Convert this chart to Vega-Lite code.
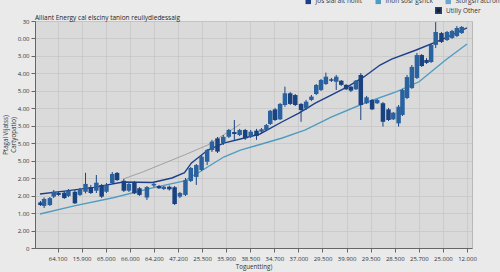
{
"$schema": "https://vega.github.io/schema/vega-lite/v6.json",
"width": 437, "height": 227,
"autosize": "none",
"padding": {"left": 35, "top": 21, "right": 28, "bottom": 24},
"background": "#eaeaea",
"config": {
  "font": "Open Sans",
  "view": {"fill": "#dadada", "stroke": "#b8b8b8"},
  "axis": {"labelFontSize": 6, "labelColor": "#333", "titleFontSize": 6.2, "titleColor": "#333", "titleFontWeight": "normal", "gridColor": "#c6c6c6", "gridWidth": 0.8, "domainColor": "#666", "tickColor": "#666", "tickSize": 4}
},
"title": {"text": "Alliant Energy cal elsciny tanion reuilydledessaig", "anchor": "start", "frame": "group", "fontSize": 6.5, "fontWeight": "normal", "color": "#222", "offset": -23},
"datasets": {
 "lines": [
  {"series":"Jös sial ält noilit","x":-0.73,"y":3.09},{"series":"Jös sial ält noilit","x":0.28,"y":3.26},{"series":"Jös sial ält noilit","x":1.5,"y":3.47},{"series":"Jös sial ält noilit","x":2.72,"y":3.78},{"series":"Jös sial ält noilit","x":3.94,"y":3.75},{"series":"Jös sial ält noilit","x":4.75,"y":4.01},{"series":"Jös sial ält noilit","x":5.27,"y":4.31},{"series":"Jös sial ält noilit","x":5.56,"y":4.87},{"series":"Jös sial ält noilit","x":6.24,"y":5.61},{"series":"Jös sial ält noilit","x":6.9,"y":6.01},{"series":"Jös sial ält noilit","x":7.59,"y":6.24},{"series":"Jös sial ält noilit","x":8.4,"y":6.53},{"series":"Jös sial ält noilit","x":9.33,"y":7.23},{"series":"Jös sial ält noilit","x":10.02,"y":7.73},{"series":"Jös sial ält noilit","x":10.7,"y":8.3},{"series":"Jös sial ält noilit","x":11.36,"y":8.76},{"series":"Jös sial ält noilit","x":12.05,"y":9.24},{"series":"Jös sial ält noilit","x":12.73,"y":9.81},{"series":"Jös sial ält noilit","x":13.39,"y":10.48},{"series":"Jös sial ält noilit","x":13.87,"y":10.82},{"series":"Jös sial ält noilit","x":14.89,"y":11.34},{"series":"Jös sial ält noilit","x":15.9,"y":11.91},{"series":"Jös sial ält noilit","x":17.0,"y":12.6},
  {"series":"Inön sösr gsrick","x":-0.73,"y":1.95},{"series":"Inön sösr gsrick","x":0.69,"y":2.41},{"series":"Inön sösr gsrick","x":2.31,"y":2.88},{"series":"Inön sösr gsrick","x":3.94,"y":3.44},{"series":"Inön sösr gsrick","x":5.27,"y":3.84},{"series":"Inön sösr gsrick","x":5.96,"y":4.41},{"series":"Inön sösr gsrick","x":6.9,"y":5.21},{"series":"Inön sösr gsrick","x":7.59,"y":5.61},{"series":"Inön sösr gsrick","x":8.19,"y":5.84},{"series":"Inön sösr gsrick","x":9.33,"y":6.3},{"series":"Inön sösr gsrick","x":10.29,"y":6.76},{"series":"Inön sösr gsrick","x":11.36,"y":7.5},{"series":"Inön sösr gsrick","x":12.73,"y":8.29},{"series":"Inön sösr gsrick","x":14.08,"y":8.95},{"series":"Inön sösr gsrick","x":15.01,"y":9.52},{"series":"Inön sösr gsrick","x":16.11,"y":10.77},{"series":"Inön sösr gsrick","x":17.0,"y":11.68}
 ],
 "gray": [
  {"x":2.72,"y":3.95},{"x":3.53,"y":4.35},{"x":5.27,"y":5.33},{"x":6.24,"y":5.9},{"x":7.59,"y":7.1}
 ],
 "candles": [
  {"x":-0.71,"open":2.61,"close":2.46,"low":2.41,"high":2.69},
  {"x":-0.56,"open":2.41,"close":2.81,"low":2.29,"high":2.89},
  {"x":-0.32,"open":2.46,"close":2.86,"low":2.41,"high":2.92},
  {"x":-0.16,"open":2.94,"close":3.22,"low":2.86,"high":3.32},
  {"x":0.04,"open":3.15,"close":3.04,"low":2.98,"high":3.21},
  {"x":0.28,"open":3.17,"close":2.86,"low":2.81,"high":3.26},
  {"x":0.45,"open":2.98,"close":3.28,"low":2.92,"high":3.38},
  {"x":0.72,"open":3.22,"close":2.56,"low":2.52,"high":3.32},
  {"x":0.93,"open":3.04,"close":3.36,"low":2.98,"high":3.44},
  {"x":1.16,"open":3.22,"close":3.67,"low":3.13,"high":4.31},
  {"x":1.38,"open":3.49,"close":3.15,"low":3.09,"high":3.61},
  {"x":1.61,"open":3.28,"close":3.74,"low":3.15,"high":4.18},
  {"x":1.83,"open":3.61,"close":2.94,"low":2.86,"high":3.67},
  {"x":2.03,"open":3.22,"close":3.61,"low":3.15,"high":3.72},
  {"x":2.27,"open":3.72,"close":4.24,"low":3.67,"high":4.35},
  {"x":2.47,"open":4.3,"close":3.89,"low":3.84,"high":4.35},
  {"x":2.75,"open":3.85,"close":3.28,"low":3.21,"high":3.95},
  {"x":2.96,"open":3.28,"close":3.67,"low":3.21,"high":3.72},
  {"x":3.19,"open":3.74,"close":3.13,"low":3.09,"high":3.84},
  {"x":3.4,"open":3.42,"close":3.04,"low":2.98,"high":3.49},
  {"x":3.71,"open":2.89,"close":3.49,"low":2.75,"high":3.55},
  {"x":4.0,"open":3.58,"close":3.67,"low":3.49,"high":3.72},
  {"x":4.21,"open":3.55,"close":3.42,"low":3.38,"high":3.61},
  {"x":4.41,"open":3.38,"close":3.51,"low":3.32,"high":3.55},
  {"x":4.64,"open":3.51,"close":3.36,"low":3.29,"high":3.58},
  {"x":4.86,"open":3.48,"close":2.52,"low":2.46,"high":3.55},
  {"x":5.08,"open":2.94,"close":3.15,"low":2.86,"high":3.21},
  {"x":5.31,"open":3.04,"close":3.89,"low":2.98,"high":4.01},
  {"x":5.53,"open":3.84,"close":4.58,"low":3.78,"high":4.64},
  {"x":5.76,"open":4.07,"close":4.75,"low":3.61,"high":4.81},
  {"x":5.98,"open":4.47,"close":5.23,"low":4.41,"high":5.33},
  {"x":6.21,"open":4.94,"close":5.61,"low":4.75,"high":5.67},
  {"x":6.41,"open":5.61,"close":6.09,"low":5.5,"high":6.19},
  {"x":6.64,"open":6.28,"close":5.52,"low":5.44,"high":6.36},
  {"x":6.88,"open":6.0,"close":6.37,"low":5.9,"high":6.47},
  {"x":7.11,"open":6.37,"close":6.76,"low":6.3,"high":6.82},
  {"x":7.34,"open":6.64,"close":6.53,"low":6.19,"high":7.33},
  {"x":7.56,"open":6.47,"close":6.76,"low":6.41,"high":6.82},
  {"x":7.79,"open":6.76,"close":6.28,"low":6.19,"high":6.82},
  {"x":8.02,"open":6.37,"close":6.66,"low":6.3,"high":6.76},
  {"x":8.26,"open":6.72,"close":6.41,"low":6.19,"high":6.82},
  {"x":8.47,"open":6.66,"close":6.8,"low":6.59,"high":6.87},
  {"x":8.67,"open":6.76,"close":7.04,"low":6.7,"high":7.1},
  {"x":8.83,"open":7.1,"close":7.86,"low":7.04,"high":7.9},
  {"x":9.03,"open":7.94,"close":7.33,"low":7.27,"high":8.02},
  {"x":9.24,"open":7.37,"close":8.25,"low":7.33,"high":8.3},
  {"x":9.44,"open":8.19,"close":8.86,"low":8.09,"high":9.24},
  {"x":9.66,"open":8.86,"close":8.25,"low":8.19,"high":8.93},
  {"x":9.87,"open":8.76,"close":8.19,"low":8.13,"high":8.82},
  {"x":10.11,"open":8.25,"close":7.9,"low":7.23,"high":8.3},
  {"x":10.32,"open":8.0,"close":8.38,"low":7.9,"high":8.48},
  {"x":10.54,"open":8.48,"close":8.67,"low":8.42,"high":8.76},
  {"x":10.74,"open":8.82,"close":9.34,"low":8.76,"high":9.39},
  {"x":10.94,"open":9.05,"close":9.62,"low":8.99,"high":9.68},
  {"x":11.14,"open":9.39,"close":9.81,"low":9.34,"high":10.04},
  {"x":11.37,"open":9.66,"close":9.58,"low":9.51,"high":9.74},
  {"x":11.57,"open":9.52,"close":9.81,"low":9.05,"high":9.91},
  {"x":11.78,"open":9.58,"close":9.34,"low":9.28,"high":9.62},
  {"x":11.98,"open":9.34,"close":9.09,"low":9.05,"high":9.39},
  {"x":12.18,"open":9.24,"close":9.01,"low":8.93,"high":9.28},
  {"x":12.39,"open":9.09,"close":9.58,"low":9.05,"high":9.62},
  {"x":12.59,"open":9.91,"close":8.19,"low":7.33,"high":10.02},
  {"x":12.83,"open":8.29,"close":8.63,"low":8.25,"high":8.71},
  {"x":13.06,"open":8.48,"close":7.94,"low":7.9,"high":8.53},
  {"x":13.27,"open":8.29,"close":8.48,"low":8.25,"high":8.53},
  {"x":13.51,"open":8.29,"close":7.23,"low":6.95,"high":8.36},
  {"x":13.74,"open":7.94,"close":7.33,"low":7.27,"high":8.02},
  {"x":13.94,"open":7.37,"close":7.75,"low":7.33,"high":7.79},
  {"x":14.16,"open":7.14,"close":8.09,"low":6.95,"high":8.19},
  {"x":14.32,"open":7.62,"close":9.05,"low":7.56,"high":9.11},
  {"x":14.51,"open":8.59,"close":9.79,"low":8.53,"high":9.91},
  {"x":14.71,"open":9.16,"close":10.37,"low":9.11,"high":10.48},
  {"x":14.92,"open":9.74,"close":11.05,"low":9.68,"high":11.17},
  {"x":15.12,"open":11.05,"close":10.42,"low":10.37,"high":11.11},
  {"x":15.32,"open":10.77,"close":10.6,"low":10.54,"high":10.88},
  {"x":15.51,"open":10.65,"close":11.63,"low":10.6,"high":11.68},
  {"x":15.7,"open":11.63,"close":12.37,"low":11.45,"high":12.94},
  {"x":15.94,"open":12.31,"close":11.8,"low":11.74,"high":12.37},
  {"x":16.17,"open":11.91,"close":12.37,"low":11.86,"high":12.43},
  {"x":16.38,"open":12.03,"close":12.43,"low":11.97,"high":12.49},
  {"x":16.58,"open":12.14,"close":12.6,"low":12.08,"high":12.71},
  {"x":16.78,"open":12.31,"close":12.66,"low":12.26,"high":12.71}
 ]
},
"encoding": {
  "x": {"field": "x", "type": "quantitative", "scale": {"domain": [-0.73, 17], "nice": false, "zero": false},
        "title": "Toguentting)",
        "axis": {"values": [0,1,2,3,4,5,6,7,8,9,10,11,12,13,14,15,16,17],
                 "labelExpr": "['64.100','15.900','65.000','66.000','64.200','47.200','25.500','35.900','38.500','34.700','37.000','29.500','39.900','29.500','28.500','25.700','25.000','12.000'][datum.value]",
                 "labelFlush": false, "labelOverlap": false, "labelPadding": 3, "titlePadding": 2, "grid": true}},
  "y": {"field": "y", "type": "quantitative", "scale": {"domain": [0, 13], "nice": false, "zero": false},
        "title": ["Ptagal Vijatss)", "Cartyopatio)"],
        "axis": {"values": [0,1,2,3,4,5,6,7,8,9,10,11,12,13],
                 "labelExpr": "['0','2.00','1.00','2.00','2.00','5.00','5.00','3.00','4.00','5.00','4.00','3.00','0.00','30'][datum.value]",
                 "tickSize": 4, "labelPadding": 2, "titlePadding": 1, "titleLineHeight": 7.5, "grid": true}}
},
"layer": [
  {
    "data": {"name": "gray"},
    "mark": {"type": "line", "color": "#9a9a9a", "strokeWidth": 0.9}
  },
  {
    "data": {"name": "lines"},
    "mark": {"type": "line", "strokeWidth": 1.4},
    "encoding": {
      "color": {"field": "series", "type": "nominal",
                "scale": {"domain": ["Jös sial ält noilit", "Inön sösr gsrick", "Storgsh atcromeilis"], "range": ["#1d3f8a", "#4f9cc2", "#6aa6cf"]},
                "legend": {"orient": "none", "legendX": 270, "legendY": -23, "direction": "horizontal", "title": null,
                           "symbolType": "square", "symbolSize": 30, "labelFontSize": 6.5, "labelColor": "#333", "columnPadding": 12, "padding": 0,
                           "encode": {"symbols": {"update": {"fill": {"signal": "scale('color', datum.value)"}, "strokeWidth": {"value": 0}}}}}}
    }
  },
  {
    "data": {"name": "candles"},
    "mark": {"type": "rule", "strokeWidth": 1},
    "encoding": {
      "y": {"field": "low", "type": "quantitative"},
      "y2": {"field": "high"},
      "stroke": {"datum": "Utilly Other", "type": "nominal", "scale": {"range": ["#1b4480"]},
                 "legend": {"orient": "none", "legendX": 400, "legendY": -14, "title": null, "symbolType": "square", "symbolSize": 30,
                            "labelFontSize": 6.5, "labelColor": "#333", "padding": 0,
                            "encode": {"symbols": {"update": {"fill": {"value": "#222"}, "stroke": {"value": "#222"}}}}}}
    }
  },
  {
    "data": {"name": "candles"},
    "mark": {"type": "bar", "width": 4.5},
    "encoding": {
      "y": {"field": "open", "type": "quantitative"},
      "y2": {"field": "close"},
      "fill": {"condition": {"test": "datum.close > datum.open", "value": "#2a62a0"}, "value": "#1a4280"}
    }
  }
]
}
